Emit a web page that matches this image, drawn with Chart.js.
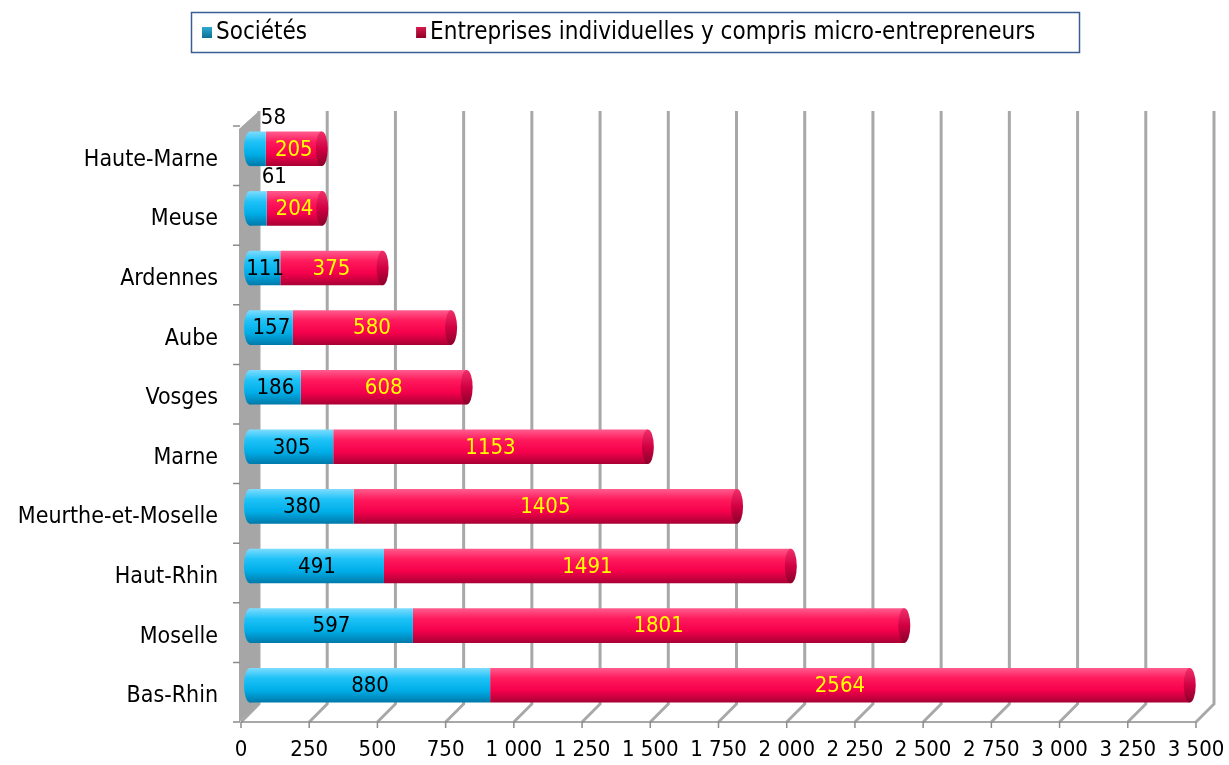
<!DOCTYPE html>
<html lang="fr">
<head>
<meta charset="utf-8">
<title>Créations d'entreprises par département</title>
<script src="https://cdn.jsdelivr.net/npm/chart.js@4.4.1/dist/chart.umd.min.js"></script>
<style>
  html, body { margin: 0; padding: 0; background: #fff; }
  #chart { display: block; }
</style>
</head>
<body>
<canvas id="chart" width="1229" height="765"></canvas>
<script>
// Données
const categories = ['Haute-Marne', 'Meuse', 'Ardennes', 'Aube', 'Vosges', 'Marne',
  'Meurthe-et-Moselle', 'Haut-Rhin', 'Moselle', 'Bas-Rhin'];
const societes = [58, 61, 111, 157, 186, 305, 380, 491, 597, 880];
const entreprises = [205, 204, 375, 580, 608, 1153, 1405, 1491, 1801, 2564];
const seriesLabels = ['Sociétés', 'Entreprises individuelles y compris micro-entrepreneurs'];
const xMax = 3500;
const xStep = 250;

const FONT = '"DejaVu Sans Condensed", "DejaVu Sans", sans-serif';
const BAR_PCT = 0.58;
const DEPTH = 9; // demi-profondeur de l'effet 3D

// Couleurs cylindre (haut -> bas)
const blueStops = ['#7ddcff', '#1ec2f7', '#00aee8', '#0079aa'];
const redStops = ['#ff5c8e', '#ff1a5c', '#f5004c', '#a80034'];

function cylGrad(ctx, stops) {
  const chart = ctx.chart;
  const area = chart.chartArea;
  if (!area || ctx.type !== 'data') return stops[2];
  const y = chart.scales.y.getPixelForValue(ctx.dataIndex);
  const h = area.height / categories.length * BAR_PCT;
  const g = chart.ctx.createLinearGradient(0, y - h / 2, 0, y + h / 2);
  g.addColorStop(0, stops[0]);
  g.addColorStop(0.3, stops[1]);
  g.addColorStop(0.65, stops[2]);
  g.addColorStop(1, stops[3]);
  return g;
}

function frNumber(v) {
  return String(v).replace(/\B(?=(\d{3})+(?!\d))/g, ' ');
}

// Mur gauche, quadrillage et plancher en perspective
const backdrop = {
  id: 'backdrop',
  beforeDatasetsDraw(chart) {
    const { ctx, scales } = chart;
    const x = scales.x, y = scales.y;
    const n = categories.length;
    const topBack = y.getPixelForValue(-0.5) - 8;
    const botBack = y.getPixelForValue(n - 0.5) - 11;
    const botFront = botBack + 2 * DEPTH;
    ctx.save();

    // quadrillage vertical
    ctx.lineWidth = 3;
    ctx.strokeStyle = '#a8a8a8';
    for (let v = 0; v <= xMax; v += xStep) {
      const px = x.getPixelForValue(v);
      ctx.beginPath();
      ctx.moveTo(px + DEPTH, topBack);
      ctx.lineTo(px + DEPTH, botBack);
      ctx.lineTo(px - DEPTH, botFront);
      ctx.stroke();
    }

    // axe avant + graduations
    ctx.lineWidth = 1.5;
    ctx.strokeStyle = '#8c8c8c';
    ctx.beginPath();
    ctx.moveTo(x.getPixelForValue(0) - DEPTH, botFront);
    ctx.lineTo(x.getPixelForValue(xMax) - DEPTH, botFront);
    for (let v = 0; v <= xMax; v += xStep) {
      const px = x.getPixelForValue(v) - DEPTH;
      ctx.moveTo(px, botFront);
      ctx.lineTo(px, botFront + 6);
    }
    ctx.stroke();

    // mur gauche
    const x0 = x.getPixelForValue(0);
    ctx.fillStyle = '#a6a6a6';
    ctx.beginPath();
    ctx.moveTo(x0 - DEPTH - 2, topBack + 2 * DEPTH);
    ctx.lineTo(x0 + DEPTH, topBack);
    ctx.lineTo(x0 + DEPTH, botBack);
    ctx.lineTo(x0 - DEPTH - 2, botFront);
    ctx.closePath();
    ctx.fill();

    // graduations de l'axe des catégories
    ctx.strokeStyle = '#8c8c8c';
    ctx.beginPath();
    for (let i = 0; i <= n; i++) {
      const py = y.getPixelForValue(i - 0.5) - 11 + 2 * DEPTH;
      ctx.moveTo(x0 - DEPTH - 8, py);
      ctx.lineTo(x0 - DEPTH - 1, py);
    }
    ctx.stroke();

    // extrémité gauche arrondie des cylindres
    const meta = chart.getDatasetMeta(0);
    meta.data.forEach(el => {
      const h = el.height;
      const g = ctx.createLinearGradient(0, el.y - h / 2, 0, el.y + h / 2);
      blueStops.forEach((c, k) => g.addColorStop([0, 0.3, 0.65, 1][k], c));
      ctx.fillStyle = g;
      ctx.beginPath();
      ctx.ellipse(el.base, el.y, 6, h / 2, 0, 0, Math.PI * 2);
      ctx.fill();
    });
    ctx.restore();
  },
  afterDatasetsDraw(chart) {
    const { ctx } = chart;
    ctx.save();
    // bouchon droit des cylindres
    const meta = chart.getDatasetMeta(1);
    meta.data.forEach(el => {
      const h = el.height;
      const g = ctx.createLinearGradient(0, el.y - h / 2, 0, el.y + h / 2);
      g.addColorStop(0, '#f0306a');
      g.addColorStop(0.5, '#d10043');
      g.addColorStop(1, '#8a002a');
      ctx.fillStyle = g;
      ctx.beginPath();
      ctx.ellipse(el.x, el.y, 6, h / 2, 0, 0, Math.PI * 2);
      ctx.fill();
    });

    // étiquettes de valeurs
    ctx.font = '22px ' + FONT;
    ctx.textBaseline = 'middle';
    chart.data.datasets.forEach((ds, di) => {
      chart.getDatasetMeta(di).data.forEach((el, i) => {
        const txt = String(ds.data[i]);
        const w = el.x - el.base;
        ctx.fillStyle = di === 0 ? '#000000' : '#ffff00';
        if (di === 0 && w < 25) {
          ctx.textAlign = 'left';
          ctx.fillText(txt, el.x - 5, el.y - 31);
        } else {
          ctx.textAlign = 'center';
          ctx.fillText(txt, (el.x + el.base) / 2, el.y + 1);
        }
      });
    });
    ctx.restore();
  }
};

// Légende encadrée
const boxedLegend = {
  id: 'boxedLegend',
  afterDraw(chart) {
    const { ctx } = chart;
    ctx.save();
    ctx.strokeStyle = '#3b5d94';
    ctx.lineWidth = 1.5;
    ctx.strokeRect(191.5, 12.5, 888, 40);
    ctx.font = '24px ' + FONT;
    ctx.textBaseline = 'middle';
    ctx.textAlign = 'left';
    const colors = [['#2fa9d4', '#0d6f93'], ['#d41a4c', '#8e0026']];
    let xPos = 202;
    seriesLabels.forEach((lbl, i) => {
      const g = ctx.createLinearGradient(0, 27, 0, 38);
      g.addColorStop(0, colors[i][0]);
      g.addColorStop(1, colors[i][1]);
      ctx.fillStyle = g;
      ctx.fillRect(xPos, 27, 10, 11);
      ctx.fillStyle = '#000';
      ctx.fillText(lbl, xPos + 14, 33);
      xPos += 14 + ctx.measureText(lbl).width + 109;
    });
    ctx.restore();
  }
};

new Chart(document.getElementById('chart'), {
  type: 'bar',
  data: {
    labels: categories,
    datasets: [
      {
        label: seriesLabels[0],
        data: societes,
        backgroundColor: ctx => cylGrad(ctx, blueStops),
        borderWidth: 0,
        barPercentage: BAR_PCT,
        categoryPercentage: 1
      },
      {
        label: seriesLabels[1],
        data: entreprises,
        backgroundColor: ctx => cylGrad(ctx, redStops),
        borderWidth: 0,
        barPercentage: BAR_PCT,
        categoryPercentage: 1
      }
    ]
  },
  options: {
    indexAxis: 'y',
    responsive: false,
    animation: false,
    layout: {
      padding: { top: 119, right: 24, bottom: 0, left: 0 }
    },
    plugins: {
      legend: { display: false },
      tooltip: { enabled: false }
    },
    scales: {
      x: {
        stacked: true,
        min: 0,
        max: xMax,
        grid: { display: false, drawTicks: false },
        border: { display: false },
        afterFit: axis => {
          axis.height = 50;
          axis.paddingLeft = 0;
          axis.paddingRight = 0;
        },
        ticks: {
          stepSize: xStep,
          autoSkip: false,
          maxRotation: 0,
          padding: 22,
          labelOffset: -DEPTH,
          color: '#000',
          font: { family: FONT, size: 22 },
          callback: v => frNumber(v)
        }
      },
      y: {
        stacked: true,
        grid: { display: false, drawTicks: false },
        border: { display: false },
        afterFit: axis => { axis.width = 250; },
        ticks: {
          padding: 32,
          labelOffset: 11,
          color: '#000',
          font: { family: FONT, size: 23 }
        }
      }
    }
  },
  plugins: [backdrop, boxedLegend]
});
</script>
</body>
</html>
